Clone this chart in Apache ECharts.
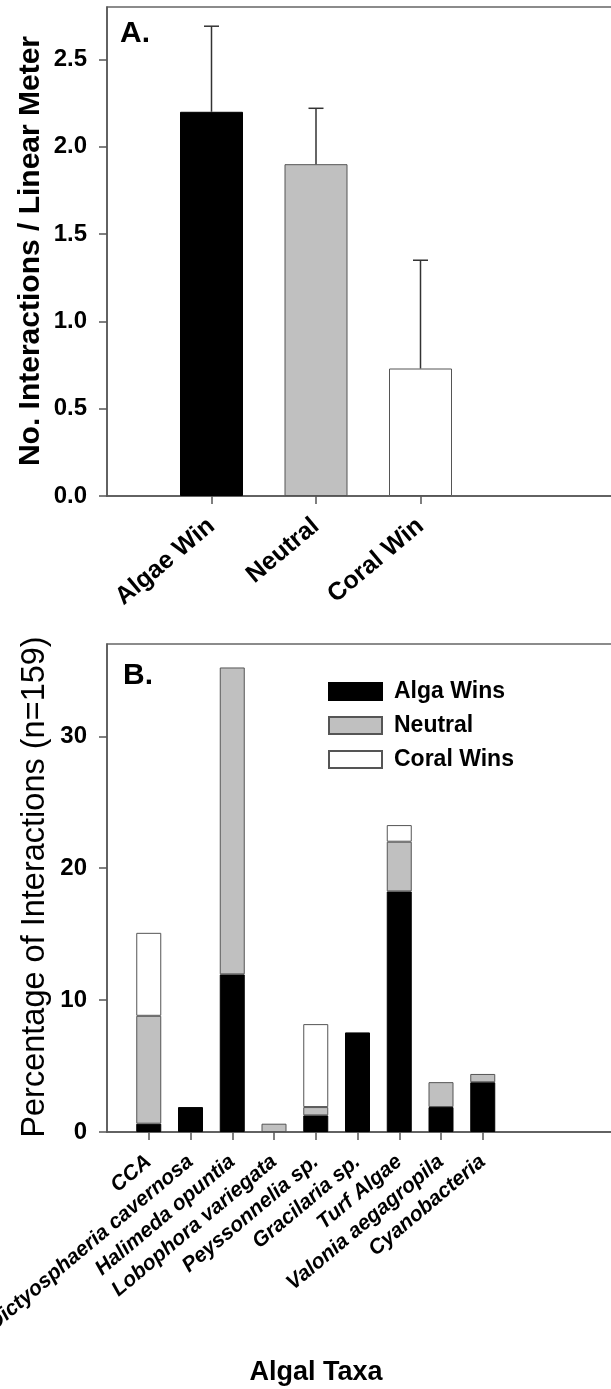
<!DOCTYPE html>
<html><head><meta charset="utf-8">
<script src="https://cdn.jsdelivr.net/npm/echarts@6/dist/echarts.min.js"></script>
<style>html,body{margin:0;padding:0;background:#fff}#c{width:611px;height:1389px}</style>
</head><body><div id="c"></div>
<script>
// Panel A data
const outcomesA = ['Algae Win', 'Neutral', 'Coral Win'];
const meansA = [2.20, 1.90, 0.73];
const upperA = [2.69, 2.22, 1.35];

// Panel B data (% of interactions, n=159)
const taxa = ['CCA', 'Dictyosphaeria cavernosa', 'Halimeda opuntia', 'Lobophora variegata',
  'Peyssonnelia sp.', 'Gracilaria sp.', 'Turf Algae', 'Valonia aegagropila', 'Cyanobacteria'];
const algaWins = [0.63, 1.89, 11.95, 0, 1.26, 7.55, 18.24, 1.89, 3.77];
const neutral = [8.18, 0, 23.27, 0.63, 0.63, 0, 3.77, 1.89, 0.63];
const coralWins = [6.29, 0, 0, 0, 6.29, 0, 1.26, 0, 0];

const FONT = 'Liberation Sans, Arial, Helvetica, sans-serif';
const AX = '#555';
const fillsA = ['#000000', '#c0c0c0', '#ffffff'];

const catsA = [''].concat(outcomesA, ['', '']);
const catsB = [''].concat(taxa, ['', '', '', '', '']);
const padA = arr => [null].concat(arr, [null, null]);
const padB = arr => ['-'].concat(arr.map(v => v === 0 ? '-' : v), ['-', '-', '-', '-', '-']);

const barDataA = padA(meansA).map((v, i) => v == null ? '-' : ({
  value: v, itemStyle: { color: fillsA[i - 1], borderColor: i === 1 ? '#000' : AX, borderWidth: 1 }
}));
const errDataA = outcomesA.map((c, i) => [i + 1, meansA[i], upperA[i]]);

const chart = echarts.init(document.getElementById('c'), null, { renderer: 'canvas' });

const xCommon = (cats, rot, labelStyle) => ({
  type: 'category', data: cats, boundaryGap: false,
  axisLine: { lineStyle: { color: AX, width: 1.5 } },
  axisTick: { show: true, length: 8, inside: false, lineStyle: { color: AX, width: 1.5 },
    interval: (i, v) => v !== '' },
  axisLabel: Object.assign({ interval: (i, v) => v !== '', rotate: rot, margin: 27, color: '#000',
    fontFamily: FONT, fontWeight: 'bold', hideOverlap: false }, labelStyle),
  splitLine: { show: false }
});
const yCommon = (min, max, interval, fmt) => ({
  type: 'value', min, max, interval,
  axisLine: { show: true, lineStyle: { color: AX, width: 1.5 } },
  axisTick: { show: true, length: 8, inside: false, lineStyle: { color: AX, width: 1.5 } },
  axisLabel: { showMaxLabel: false, margin: 20, color: '#000', fontFamily: FONT, fontWeight: 'bold',
    fontSize: 24, formatter: fmt },
  splitLine: { show: false }
});

const option = {
  backgroundColor: '#fff',
  animation: false,
  grid: [
    { left: 107, right: -18.5, top: 7, height: 489, show: true, borderColor: '#666', borderWidth: 1.5,
      containLabel: false, outerBoundsMode: 'none' },
    { left: 107, right: -80.5, top: 644, height: 488, show: true, borderColor: '#666', borderWidth: 1.5,
      containLabel: false, outerBoundsMode: 'none' }
  ],
  xAxis: [
    Object.assign(xCommon(catsA, 40, { fontSize: 25 }), { gridIndex: 0 }),
    Object.assign(xCommon(catsB, 40, { fontSize: 21, fontStyle: 'italic' }), { gridIndex: 1 })
  ],
  yAxis: [
    Object.assign(yCommon(0, 2.8, 0.5, v => v.toFixed(1)), { gridIndex: 0 }),
    Object.assign(yCommon(0, 37, 10, v => String(v)), { gridIndex: 1 })
  ],
  legend: {
    orient: 'vertical', left: 328, top: 680, padding: 0, itemWidth: 53, itemHeight: 17, itemGap: 11,
    icon: 'rect', selectedMode: false,
    data: ['Alga Wins', 'Neutral', 'Coral Wins'],
    textStyle: { fontFamily: FONT, fontWeight: 'bold', fontSize: 23, color: '#000', padding: [0, 0, 0, 7] }
  },
  series: [
    { name: 'A', type: 'bar', xAxisIndex: 0, yAxisIndex: 0, barWidth: 63, data: barDataA, z: 2 },
    { name: 'errA', type: 'custom', xAxisIndex: 0, yAxisIndex: 0, data: errDataA, z: 3,
      encode: { x: 0, y: [1, 2] },
      renderItem: (params, api) => {
        const x = api.value(0);
        const lo = api.coord([x, api.value(1)]);
        const hi = api.coord([x, api.value(2)]);
        const cap = 7.5;
        const st = { stroke: '#333', lineWidth: 1.5 };
        return { type: 'group', children: [
          { type: 'line', shape: { x1: lo[0], y1: lo[1], x2: hi[0], y2: hi[1] }, style: st },
          { type: 'line', shape: { x1: hi[0] - cap, y1: hi[1], x2: hi[0] + cap, y2: hi[1] }, style: st }
        ] };
      }
    },
    { name: 'Alga Wins', type: 'bar', stack: 'b', xAxisIndex: 1, yAxisIndex: 1, barWidth: 25,
      itemStyle: { color: '#000000', borderColor: '#000', borderWidth: 1 }, data: padB(algaWins) },
    { name: 'Neutral', type: 'bar', stack: 'b', xAxisIndex: 1, yAxisIndex: 1, barWidth: 25,
      itemStyle: { color: '#c0c0c0', borderColor: AX, borderWidth: 1 }, data: padB(neutral) },
    { name: 'Coral Wins', type: 'bar', stack: 'b', xAxisIndex: 1, yAxisIndex: 1, barWidth: 25,
      itemStyle: { color: '#ffffff', borderColor: AX, borderWidth: 1 }, data: padB(coralWins) }
  ],
  graphic: [
    { type: 'text', left: 120, top: 19, style: { text: 'A.', font: 'bold 30px ' + FONT, fill: '#000' } },
    { type: 'text', left: 123, top: 661, style: { text: 'B.', font: 'bold 30px ' + FONT, fill: '#000' } },
    { type: 'text', x: 31, y: 251, rotation: Math.PI / 2,
      style: { text: 'No. Interactions / Linear Meter', font: 'bold 30px ' + FONT, fill: '#000', align: 'center', verticalAlign: 'middle' } },
    { type: 'text', x: 35, y: 887, rotation: Math.PI / 2,
      style: { text: 'Percentage of Interactions (n=159)', font: '32.5px ' + FONT, fill: '#000', align: 'center', verticalAlign: 'middle' } },
    { type: 'text', x: 316, y: 1373,
      style: { text: 'Algal Taxa', font: 'bold 27px ' + FONT, fill: '#000', align: 'center', verticalAlign: 'middle' } }
  ]
};
chart.setOption(option);
</script>
</body></html>
